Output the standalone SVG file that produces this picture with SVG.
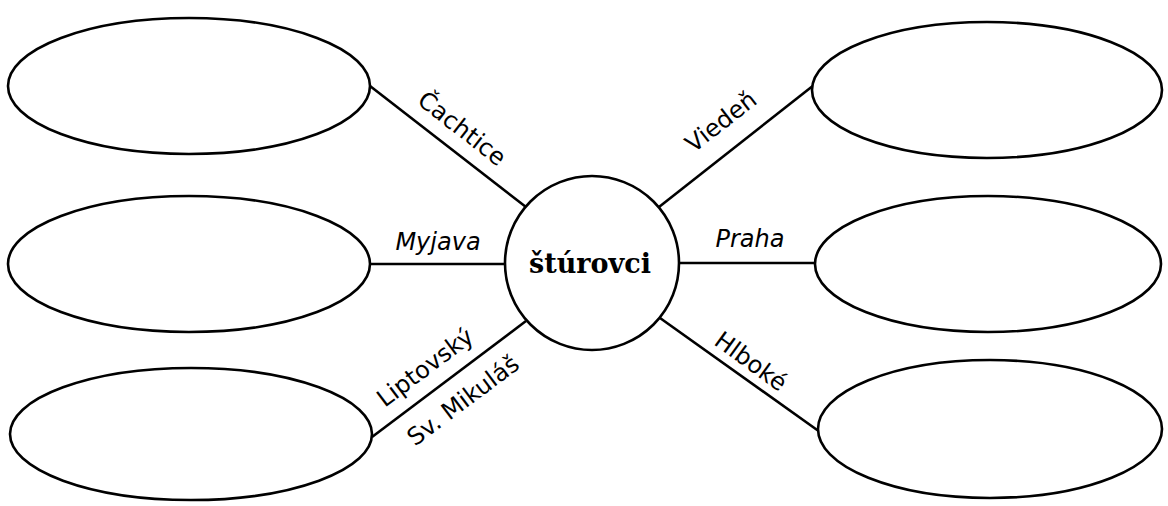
<svg xmlns="http://www.w3.org/2000/svg" width="1168" height="506" viewBox="0 0 1168 506">
<style>
.sh{fill:#fff;stroke:#000;stroke-width:2.6}
.ln{stroke:#000;stroke-width:2.6;fill:none}
.lb{font-family:"DejaVu Sans",sans-serif;font-size:24px;fill:#000;text-anchor:middle}
.it{font-style:italic}
.ct{font-family:"DejaVu Serif",serif;font-weight:900;font-size:27px;fill:#000;text-anchor:middle}
</style>
<rect width="1168" height="506" fill="#fff"/>
<g id="connectors">
<line class="ln" x1="370" y1="86" x2="526" y2="207"/>
<line class="ln" x1="370" y1="264" x2="506" y2="264"/>
<line class="ln" x1="372" y1="437" x2="526" y2="321"/>
<line class="ln" x1="659" y1="207" x2="814" y2="85"/>
<line class="ln" x1="679" y1="263" x2="815" y2="263"/>
<line class="ln" x1="660" y1="318" x2="820" y2="432"/>
</g>
<g id="center"><circle class="sh" cx="592" cy="263" r="87"/><text class="ct" x="590" y="273">štúrovci</text></g>
<g id="n1"><ellipse class="sh" cx="189" cy="86" rx="181" ry="68"/></g>
<g id="n2"><ellipse class="sh" cx="189" cy="264" rx="181" ry="68"/></g>
<g id="n3"><ellipse class="sh" cx="191" cy="434" rx="181" ry="66"/></g>
<g id="n4"><ellipse class="sh" cx="987" cy="90" rx="175" ry="68"/></g>
<g id="n5"><ellipse class="sh" cx="988" cy="264" rx="173" ry="68"/></g>
<g id="n6"><ellipse class="sh" cx="990" cy="429" rx="172" ry="69"/></g>
<g id="labels">
<text class="lb" transform="translate(457,135) rotate(38)">Čachtice</text>
<text class="lb it" x="438" y="250">Myjava</text>
<text class="lb" transform="translate(430,374) rotate(-37)">Liptovský</text>
<text class="lb" transform="translate(468,407) rotate(-37)">Sv. Mikuláš</text>
<text class="lb" transform="translate(726,128) rotate(-38)">Viedeň</text>
<text class="lb it" x="750" y="247">Praha</text>
<text class="lb" transform="translate(746,368) rotate(36)">Hlboké</text>
</g>
</svg>
